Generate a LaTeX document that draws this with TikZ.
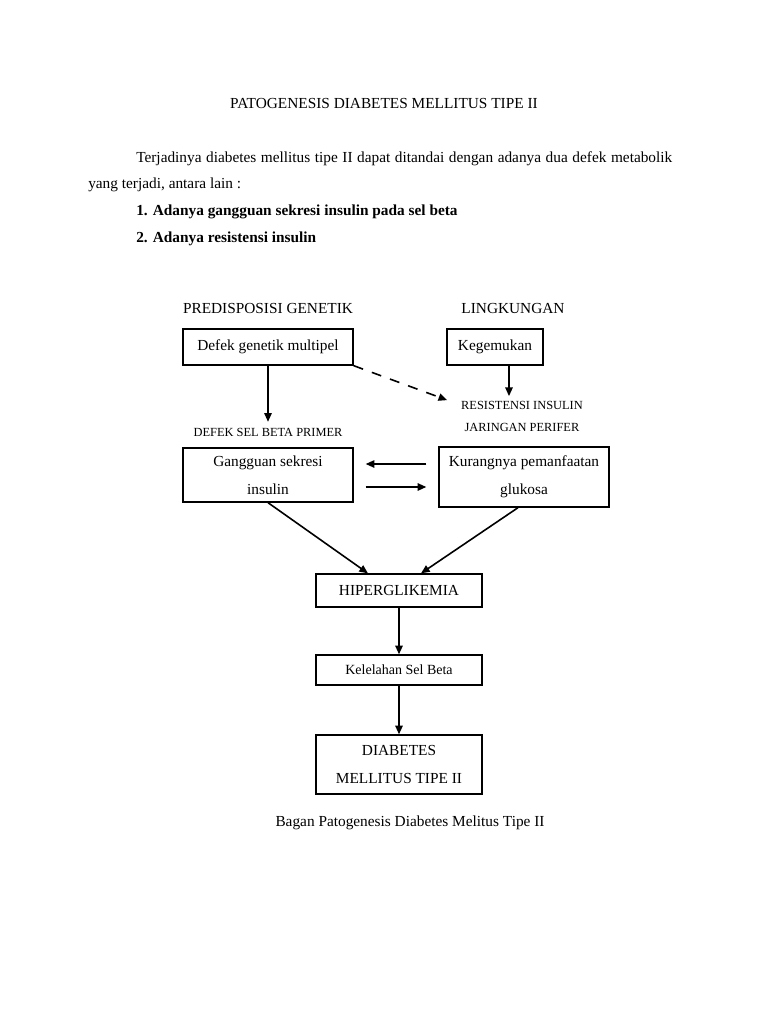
\documentclass[tikz,border=0pt]{standalone}
\usepackage{fontspec}
\setmainfont{Liberation Serif}
\usetikzlibrary{positioning, arrows.meta, calc}
\tikzset{
box/.style={draw, line width=1pt, align=center, inner sep=0pt, font=\fontsize{11.5}{21}\selectfont}, % framed boxes of the scheme
head/.style={font=\fontsize{11.5}{14}\selectfont}, % headings and captions
small/.style={font=\fontsize{9.3}{16.5}\selectfont, align=center}, % small labels between boxes
line/.style={anchor=base west, inner sep=0pt, font=\fontsize{11.5}{14}\selectfont}, % text lines above the scheme
arrow/.style={-{Triangle[length=6.5pt,width=5.5pt]}, line width=1.2pt}, % directed connectors
}
\begin{document}
\begin{tikzpicture}[x=0.75pt, y=-0.75pt]
\useasboundingbox[fill=white] (0,0) rectangle (768,1024);

% text above the scheme
\node[head] at (384,103) (title) {PATOGENESIS DIABETES MELLITUS TIPE II};
\node[line] at (136,162) (par1) {\makebox[402pt][s]{Terjadinya diabetes mellitus tipe II dapat ditandai dengan adanya dua defek metabolik}};
\node[line] at (88,188) (par2) {yang terjadi, antara lain :};
\node[line] at (136,215) (item1) {\bfseries 1. Adanya gangguan sekresi insulin pada sel beta};
\node[line] at (136,242) (item2) {\bfseries 2. Adanya resistensi insulin};

% the scheme
\node[head] at (268,308) (genetik) {PREDISPOSISI GENETIK};
\node[head] at (513,308) (lingkungan) {LINGKUNGAN};
\node[box, minimum width=127.5pt, minimum height=27pt] at (268,347) (defek) {Defek genetik multipel};
\node[box, minimum width=72pt, minimum height=27pt] at (495,347) (gemuk) {Kegemukan};
\node[small] at (268,432) (primer) {DEFEK SEL BETA PRIMER};
\node[small] at (522,416) (resist) {RESISTENSI INSULIN\\JARINGAN PERIFER};
\node[box, minimum width=127.5pt, minimum height=40.5pt] at (268,475) (gangguan) {Gangguan sekresi\\insulin};
\node[box, minimum width=127.5pt, minimum height=45pt] at (524,477) (kurang) {Kurangnya pemanfaatan\\glukosa};
\node[box, minimum width=124.5pt, minimum height=24.75pt] at (399,590.5) (hiper) {HIPERGLIKEMIA};
\node[box, minimum width=124.5pt, minimum height=22.5pt, font=\fontsize{10.5}{14}\selectfont] at (399,670) (lelah) {Kelelahan Sel Beta};
\node[box, minimum width=124.5pt, minimum height=44.25pt] at (399,764.5) (dm) {DIABETES\\MELLITUS TIPE II};
\node[head] at (410,823) (caption) {Bagan Patogenesis Diabetes Melitus Tipe II};

\draw[arrow] (defek.south) -- ([yshift=1pt]primer.north);
\draw[arrow] ([xshift=10.5pt]gemuk.south) -- ([xshift=10.5pt]gemuk.south |- resist.north);
\draw[arrow, dash pattern=on 7.5pt off 7pt] (defek.south east) -- ([xshift=-7pt,yshift=-3pt]resist.north west);

\draw[arrow, shorten <=9pt, shorten >=9pt] ([yshift=8.25pt]gangguan.east -| kurang.west) -- ([yshift=8.25pt]gangguan.east);
\draw[arrow, shorten <=9pt, shorten >=9pt] ([yshift=-9pt]gangguan.east) -- ([yshift=-9pt]gangguan.east -| kurang.west);

\draw[arrow] (gangguan.south) -- ([xshift=-23.25pt]hiper.north);
\draw[arrow] ([xshift=-4.5pt]kurang.south) -- ([xshift=16.5pt]hiper.north);
\draw[arrow] (hiper) -- (lelah);
\draw[arrow] (lelah) -- (dm);

\end{tikzpicture}
\end{document}
